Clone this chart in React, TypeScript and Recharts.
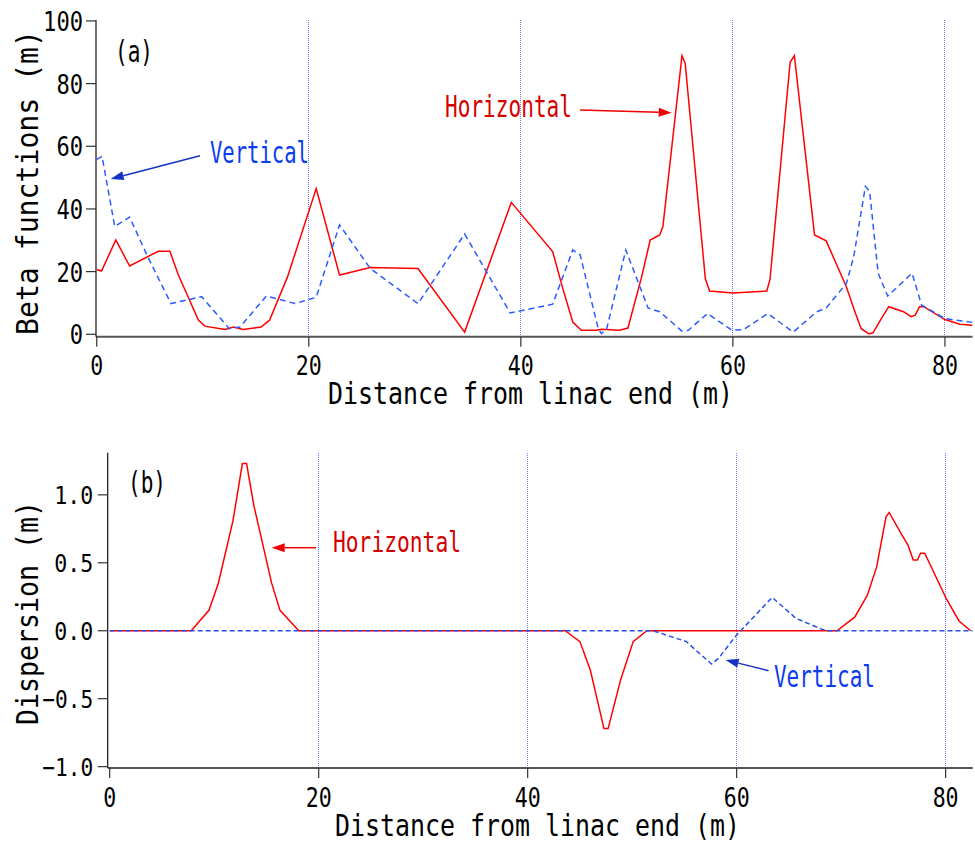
import React from 'react';
import { LineChart, Line, XAxis, YAxis, ReferenceLine } from 'recharts';

const FONT = '"DejaVu Sans Mono", "Liberation Mono", monospace';

// (a) beta functions: position along the line (m) and value (m)
const betaHS = [0, 0.45, 1.8, 3.1, 5.8, 6.9, 7.7, 9.6, 10.2, 12.1, 12.9, 13.8, 15.5, 16.3, 18.0, 20.7, 22.9, 25.8, 30.3, 34.7, 39.1, 43.0, 44.0, 44.9, 45.7, 47.1, 47.6, 49.3, 50.1, 51.4, 52.2, 53.1, 53.4, 55.2, 55.5, 57.4, 57.8, 60.0, 63.2, 63.5, 65.4, 65.8, 67.7, 68.8, 70.7, 71.4, 72.1, 72.8, 73.2, 74.0, 74.7, 76.1, 76.8, 77.2, 77.6, 78.0, 80.0, 81.4, 82.6];
const betaHV = [20.7, 20.2, 30.1, 21.8, 26.5, 26.5, 18.9, 4.5, 2.6, 1.5, 2.3, 1.5, 2.3, 4.5, 18.4, 46.5, 18.9, 21.3, 21.0, 0.7, 42.1, 26.4, 14.1, 3.9, 1.3, 1.3, 1.6, 1.3, 2.0, 18.4, 30.1, 31.7, 34.4, 88.9, 86.5, 17.8, 13.8, 13.2, 13.8, 17.5, 86.8, 88.9, 31.7, 29.8, 15.2, 8.2, 1.8, 0.2, 0.4, 5.0, 8.8, 7.2, 5.6, 6.1, 8.8, 8.8, 4.7, 3.2, 2.9];
const betaVS = [0, 0.5, 1.7, 3.1, 4.8, 7.0, 9.9, 12.5, 13.5, 16.0, 18.7, 20.7, 22.9, 25.8, 30.3, 34.7, 39.0, 43.0, 44.9, 45.6, 47.3, 47.6, 48.1, 49.9, 52.0, 53.1, 55.2, 55.8, 57.6, 59.9, 61.0, 63.3, 65.7, 67.9, 68.8, 70.7, 71.4, 72.5, 72.9, 73.7, 74.6, 76.9, 77.8, 80.0, 82.6];
const betaVV = [55.8, 56.8, 34.4, 37.4, 24.8, 9.8, 12.0, 1.8, 2.3, 12.2, 9.8, 11.8, 34.9, 21.0, 9.8, 32.0, 6.8, 9.6, 26.9, 25.3, 1.8, 0.2, 1.8, 26.9, 8.4, 7.2, 1.0, 1.3, 6.6, 1.3, 1.5, 6.6, 0.7, 7.2, 8.4, 16.2, 24.8, 47.2, 45.6, 19.5, 12.2, 19.5, 9.3, 5.0, 3.8];

// (b) dispersion
const dispHS = [0, 7.8, 9.5, 10.4, 11.8, 12.7, 13.1, 13.8, 15.5, 16.3, 18.1, 43.6, 45.0, 46.0, 47.3, 47.7, 48.9, 50.1, 51.4, 69.6, 71.3, 72.5, 73.4, 74.3, 74.6, 75.7, 76.4, 76.9, 77.3, 77.6, 78.0, 80.1, 81.3, 82.4];
const dispHV = [0, 0, 0.15, 0.35, 0.81, 1.23, 1.23, 0.92, 0.35, 0.15, 0, 0, -0.08, -0.29, -0.72, -0.72, -0.36, -0.08, 0, 0, 0.10, 0.26, 0.47, 0.84, 0.87, 0.72, 0.63, 0.52, 0.52, 0.57, 0.57, 0.23, 0.07, 0];
const dispVS = [0, 52.0, 55.2, 55.9, 57.6, 58.3, 59.9, 63.4, 65.7, 68.2, 68.7, 82.6];
const dispVV = [0, 0, -0.08, -0.13, -0.245, -0.2, -0.04, 0.245, 0.09, 0.01, 0, 0];

const xTicks = [0, 20, 40, 60, 80];
const betaTicks = [0, 20, 40, 60, 80, 100];
const dispTicks = [-1.0, -0.5, 0, 0.5, 1.0];
const gridXs = [20, 40, 60, 80];

const zip = (s: number[], v: number[]) => s.map((x, i) => ({ s: x, v: v[i] }));

const axisLineX = { stroke: '#555', strokeWidth: 2 };
const axisLineY = { stroke: '#111', strokeWidth: 1.2 };
const tickLineStyle = { stroke: '#333', strokeWidth: 1.2 };
const GRID = '#7878ff';

function XTick({ x, y, payload }: any) {
  const label = String(payload.value);
  return (
    <text x={x} y={y + 28.5} textAnchor="middle" fontFamily={FONT} fontSize={27} fill="#000"
      textLength={label.length * 13} lengthAdjust="spacingAndGlyphs">{label}</text>
  );
}

function BetaTick({ x, y, payload }: any) {
  const label = String(payload.value);
  return (
    <text x={x - 3} y={y + 10} textAnchor="end" fontFamily={FONT} fontSize={27} fill="#000"
      textLength={label.length * 13.3} lengthAdjust="spacingAndGlyphs">{label}</text>
  );
}

function DispTick({ x, y, payload }: any) {
  const v = Number(payload.value);
  const label = (v < 0 ? '\u2212' : '') + Math.abs(v).toFixed(1);
  const len = 39 + (v < 0 ? 12 : 0);
  return (
    <text x={x - 4.5} y={y + 9} textAnchor="end" fontFamily={FONT} fontSize={25} fill="#000"
      textLength={len} lengthAdjust="spacingAndGlyphs">{label}</text>
  );
}

function Arrow({ x1, y1, x2, y2, color }: { x1: number; y1: number; x2: number; y2: number; color: string }) {
  const dx = x2 - x1;
  const dy = y2 - y1;
  const d = Math.hypot(dx, dy);
  const ux = dx / d;
  const uy = dy / d;
  const hl = 13;
  const hw = 4.5;
  const bx = x2 - ux * hl;
  const by = y2 - uy * hl;
  const pts = `${x2},${y2} ${bx - uy * hw},${by + ux * hw} ${bx + uy * hw},${by - ux * hw}`;
  return (
    <g>
      <line x1={x1} y1={y1} x2={bx} y2={by} stroke={color} strokeWidth={1.5} />
      <polygon points={pts} fill={color} />
    </g>
  );
}

function Label({ x, y, text, size, len, color = '#000', anchor = 'start', rotate = false }: any) {
  return (
    <text x={x} y={y} textAnchor={anchor} fontFamily={FONT} fontSize={size} fill={color}
      textLength={len} lengthAdjust="spacingAndGlyphs"
      transform={rotate ? `rotate(-90 ${x} ${y})` : undefined}>{text}</text>
  );
}

const BLUE_TXT = '#0a3cf0';
const BLUE_ARR = '#1434c8';
const RED_TXT = '#d40000';
const RED_ARR = '#ee0000';

export default function App() {
  return (
    <div style={{ position: 'absolute', left: 0, top: 0, width: 975, height: 844, background: '#fff' }}>
      <div style={{ position: 'absolute', left: 0, top: 0 }}>
        <LineChart width={975} height={420} margin={{ top: 20, right: 2.5, bottom: 0, left: 0 }}>
          {gridXs.map(g => (
            <ReferenceLine key={g} x={g} stroke={GRID} strokeWidth={1} strokeDasharray="1 1" shapeRendering="crispEdges" />
          ))}
          <XAxis type="number" dataKey="s" domain={[-0.07, 82.6]} allowDataOverflow ticks={xTicks} interval={0}
            height={83.3} tickSize={10} tickMargin={0} axisLine={axisLineX} tickLine={tickLineStyle} tick={XTick} />
          <XAxis xAxisId="top" orientation="top" type="number" domain={[-0.07, 82.6]} allowDataOverflow ticks={xTicks}
            interval={0} height={0} tickSize={10} axisLine={axisLineX} tickLine={tickLineStyle} tick={false} />
          <YAxis type="number" domain={[-0.77, 100.3]} allowDataOverflow ticks={betaTicks} interval={0} width={96}
            tickSize={10} tickMargin={0} axisLine={axisLineY} tickLine={tickLineStyle} tick={BetaTick} />
          <YAxis yAxisId="right" orientation="right" type="number" domain={[-0.77, 100.3]} allowDataOverflow
            ticks={betaTicks} interval={0} width={0} tickSize={6} axisLine={axisLineY} tickLine={tickLineStyle} tick={false} />
          <Line data={zip(betaHS, betaHV)} dataKey="v" type="linear" stroke="#ff0000" strokeWidth={1.5}
            dot={false} activeDot={false} isAnimationActive={false} />
          <Line data={zip(betaVS, betaVV)} dataKey="v" type="linear" stroke="#2a5cff" strokeWidth={1.5}
            strokeDasharray="6 4" dot={false} activeDot={false} isAnimationActive={false} />
        </LineChart>
      </div>
      <div style={{ position: 'absolute', left: 0, top: 430 }}>
        <LineChart width={975} height={414} margin={{ top: 22.7, right: 2.2, bottom: 0, left: 0 }}>
          {gridXs.map(g => (
            <ReferenceLine key={g} x={g} stroke={GRID} strokeWidth={1} strokeDasharray="1 1" shapeRendering="crispEdges" />
          ))}
          <XAxis type="number" dataKey="s" domain={[-0.19, 82.6]} allowDataOverflow ticks={xTicks} interval={0}
            height={76} tickSize={10} tickMargin={0} axisLine={axisLineX} tickLine={tickLineStyle} tick={XTick} />
          <XAxis xAxisId="top" orientation="top" type="number" domain={[-0.19, 82.6]} allowDataOverflow ticks={xTicks}
            interval={0} height={0} tickSize={10} axisLine={{ stroke: '#111', strokeWidth: 1.2 }} tickLine={tickLineStyle} tick={false} />
          <YAxis type="number" domain={[-1.01, 1.31]} allowDataOverflow ticks={dispTicks} interval={0} width={107.7}
            tickSize={10} tickMargin={0} axisLine={axisLineY} tickLine={tickLineStyle} tick={DispTick} />
          <YAxis yAxisId="right" orientation="right" type="number" domain={[-1.01, 1.31]} allowDataOverflow
            ticks={dispTicks} interval={0} width={0} tickSize={6} axisLine={axisLineY} tickLine={tickLineStyle} tick={false} />
          <Line data={zip(dispHS, dispHV)} dataKey="v" type="linear" stroke="#ff0000" strokeWidth={1.5}
            dot={false} activeDot={false} isAnimationActive={false} />
          <Line data={zip(dispVS, dispVV)} dataKey="v" type="linear" stroke="#2450e8" strokeWidth={1.5}
            strokeDasharray="5 3" dot={false} activeDot={false} isAnimationActive={false} />
        </LineChart>
      </div>
      <svg width={975} height={844} style={{ position: 'absolute', left: 0, top: 0, pointerEvents: 'none' }}>
        {/* axis titles */}
        <Label x={38} y={182.5} text="Beta functions (m)" size={31} len={305} anchor="middle" rotate />
        <Label x={328} y={404} text="Distance from linac end (m)" size={31} len={405} />
        <Label x={38} y={613} text="Dispersion (m)" size={31} len={224} anchor="middle" rotate />
        <Label x={335} y={836} text="Distance from linac end (m)" size={31} len={405} />

        {/* panel tags */}
        <Label x={115} y={62} text="(a)" size={30} len={38} />
        <Label x={128} y={493} text="(b)" size={30} len={38} />

        {/* annotations, panel (a) */}
        <Label x={210} y={162.7} text="Vertical" size={30} len={99} color={BLUE_TXT} />
        <Arrow x1={200} y1={155.7} x2={110.7} y2={179} color={BLUE_ARR} />
        <Label x={445} y={116.7} text="Horizontal" size={30} len={127} color={RED_TXT} />
        <Arrow x1={580} y1={110} x2={671.7} y2={112.7} color={RED_ARR} />

        {/* annotations, panel (b) */}
        <Label x={333} y={552} text="Horizontal" size={28} len={128} color={RED_TXT} />
        <Arrow x1={316} y1={547.7} x2={271.7} y2={547.7} color={RED_ARR} />
        <Label x={774} y={686.7} text="Vertical" size={30} len={101} color={BLUE_TXT} />
        <Arrow x1={768.5} y1={670.7} x2={725.6} y2={660} color={BLUE_ARR} />
      </svg>
    </div>
  );
}
